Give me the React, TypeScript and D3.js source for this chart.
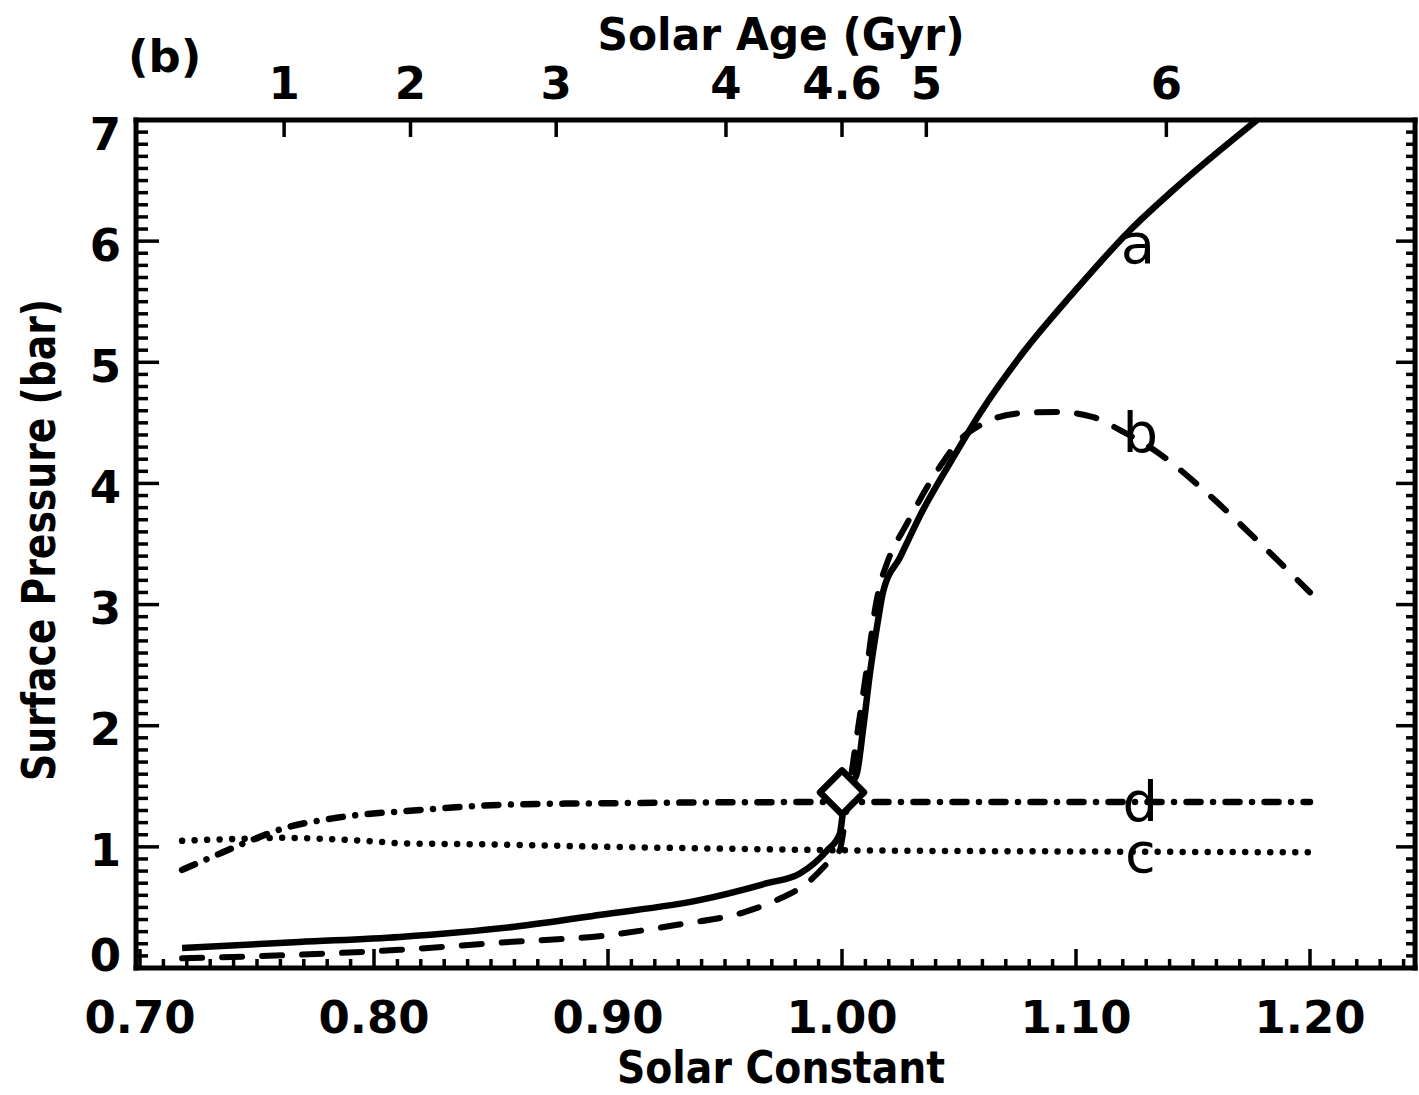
import React from "react";
import * as d3 from "d3";

const W = 1419;
const H = 1095;

// Model a (solid): solar constant (relative to today) vs surface pressure (bar)
const curveAS = [0.718, 0.768, 0.811, 0.86, 0.897, 0.939, 0.968, 0.982, 0.9936, 0.9991, 1.0004, 1.0026, 1.0064, 1.009, 1.012, 1.0154, 1.0175, 1.0248, 1.0346, 1.0462, 1.059, 1.0774, 1.0987, 1.1231, 1.1415, 1.1774];
const curveAP = [0.165, 0.215, 0.256, 0.34, 0.44, 0.56, 0.7, 0.78, 0.97, 1.11, 1.28, 1.47, 1.61, 1.97, 2.44, 2.87, 3.1, 3.39, 3.78, 4.17, 4.58, 5.08, 5.57, 6.09, 6.42, 7.0];

// Model b (dashed)
const curveBS = [0.718, 0.768, 0.811, 0.854, 0.8996, 0.929, 0.958, 0.972, 0.985, 0.995, 0.999, 1.0013, 1.0043, 1.0077, 1.0111, 1.0141, 1.0162, 1.0192, 1.0278, 1.0419, 1.0504, 1.059, 1.076, 1.0919, 1.107, 1.1188, 1.1346, 1.156, 1.1774, 1.2];
const curveBP = [0.08, 0.11, 0.15, 0.21, 0.27, 0.355, 0.46, 0.56, 0.7, 0.89, 0.97, 1.22, 1.64, 2.09, 2.54, 2.96, 3.16, 3.34, 3.67, 4.14, 4.36, 4.48, 4.58, 4.59, 4.55, 4.44, 4.26, 3.92, 3.53, 3.1];

// Model c (dotted)
const curveCS = [0.718, 0.74, 0.761, 0.78, 0.8, 0.811, 0.85, 0.9, 0.95, 1.0, 1.1, 1.2];
const curveCP = [1.05, 1.065, 1.075, 1.065, 1.045, 1.03, 1.02, 1.0, 0.985, 0.972, 0.962, 0.955];

// Model d (dash-dot)
const curveDS = [0.718, 0.73, 0.7457, 0.761, 0.784, 0.8167, 0.859, 0.9, 1.0, 1.1, 1.2];
const curveDP = [0.81, 0.91, 1.04, 1.15, 1.24, 1.3, 1.35, 1.36, 1.37, 1.37, 1.37];

// Present-day point
const presentS = 1.0;
const presentP = 1.45;

// Curve labels, anchored at (solar constant, pressure) of their baseline
const labelNames = ["a", "b", "d", "c"];
const labelS = [1.1265, 1.1275, 1.1275, 1.1275];
const labelP = [5.82, 4.26, 1.21, 0.79];

const constantTicks = [0.7, 0.8, 0.9, 1.0, 1.1, 1.2];
const pressureTicks = [0, 1, 2, 3, 4, 5, 6, 7];
const ageTicks = [1, 2, 3, 4, 4.6, 5, 6];

// Gough (1981) faint young Sun relation: luminosity relative to today at age t (Gyr)
const solarConstantAtAge = (t: number) => 1 / (1 + 0.4 * (1 - t / 4.6));

const zip = (a: number[], b: number[]): [number, number][] => a.map((v, i) => [v, b[i]]);

const FONT = "'DejaVu Sans', 'Open Sans', sans-serif";

export default function App() {
  const x = d3.scaleLinear().domain([0.7, 1.2]).range([140, 1310]);
  const y = d3.scaleLinear().domain([0, 7]).range([968, 120]);

  const sMin = 0.6983;
  const sMax = 1.2449;
  const left = x(sMin);
  const right = x(sMax);
  const top = y(7);
  const bottom = y(0);

  const line = d3
    .line<[number, number]>()
    .x((d) => x(d[0]))
    .y((d) => y(d[1]))
    .curve(d3.curveMonotoneX);

  const minorS = d3.range(70, 125).map((v) => v / 100);
  const minorP = d3.range(0, 71).map((v) => v / 10);
  const isMajorS = (v: number) => Math.abs(v * 10 - Math.round(v * 10)) < 1e-6;
  const isMajorP = (v: number) => Math.abs(v - Math.round(v)) < 1e-6;

  const dx = x(presentS);
  const dy = y(presentP);
  const r = 22;

  return (
    <svg
      width={W}
      height={H}
      viewBox={`0 0 ${W} ${H}`}
      style={{ position: "absolute", left: 0, top: 0, display: "block", background: "#fff" }}
    >
      <rect x={0} y={0} width={W} height={H} fill="#fff" />

      {/* curves */}
      <g fill="none" stroke="#000">
        <path d={line(zip(curveCS, curveCP)) || ""} strokeWidth={6.5} strokeDasharray="0.01 12.5" strokeLinecap="round" />
        <path d={line(zip(curveDS, curveDP)) || ""} strokeWidth={6.5} strokeDasharray="14 12.5 0.01 12.5" strokeLinecap="round" />
        <path d={line(zip(curveBS, curveBP)) || ""} strokeWidth={6} strokeDasharray="20 20" strokeLinecap="round" />
        <path d={line(zip(curveAS, curveAP)) || ""} strokeWidth={6.5} strokeLinejoin="round" />
      </g>

      {/* present-day diamond */}
      <path
        d={`M${dx - r},${dy} L${dx},${dy - r} L${dx + r},${dy} L${dx},${dy + r} Z`}
        fill="#fff"
        stroke="#000"
        strokeWidth={6.5}
        strokeLinejoin="round"
      />

      {/* curve labels */}
      <g fontFamily={FONT} fontSize={56} fill="#000" textAnchor="middle">
        {labelNames.map((n, i) => (
          <text key={n} x={x(labelS[i])} y={y(labelP[i])}>
            {n}
          </text>
        ))}
      </g>

      {/* frame */}
      <g stroke="#000" strokeWidth={5} strokeLinecap="square">
        <line x1={left} y1={top} x2={right} y2={top} />
        <line x1={left} y1={bottom} x2={right} y2={bottom} />
        <line x1={left} y1={top} x2={left} y2={bottom} />
        <line x1={right} y1={top} x2={right} y2={bottom} />
      </g>

      {/* bottom ticks */}
      <g stroke="#000" strokeWidth={3.5}>
        {minorS.map((v) => (
          <line key={`b${v}`} x1={x(v)} x2={x(v)} y1={bottom} y2={bottom - (isMajorS(v) ? 19 : 9)} />
        ))}
      </g>

      {/* left and right ticks */}
      <g stroke="#000" strokeWidth={3.5}>
        {minorP.map((v) => (
          <g key={`p${v}`}>
            <line x1={left} x2={left + (isMajorP(v) ? 23 : 12)} y1={y(v)} y2={y(v)} />
            <line x1={right} x2={right - (isMajorP(v) ? 19 : 9)} y1={y(v)} y2={y(v)} />
          </g>
        ))}
      </g>

      {/* top (age) ticks */}
      <g stroke="#000" strokeWidth={3.5}>
        {ageTicks.map((t) => (
          <line key={`t${t}`} x1={x(solarConstantAtAge(t))} x2={x(solarConstantAtAge(t))} y1={top} y2={top + 17} />
        ))}
      </g>

      {/* tick labels */}
      <g fontFamily={FONT} fontWeight="bold" fontSize={45} fill="#000">
        {constantTicks.map((v) => (
          <text key={`bl${v}`} x={x(v)} y={1033} textAnchor="middle">
            {v.toFixed(2)}
          </text>
        ))}
        {pressureTicks.map((v) => (
          <text
            key={`pl${v}`}
            x={121}
            y={Math.min(Math.max(y(v) + 4, 134), 955)}
            textAnchor="end"
            dominantBaseline="central"
          >
            {v}
          </text>
        ))}
        {ageTicks.map((t) => (
          <text key={`al${t}`} x={x(solarConstantAtAge(t))} y={99} textAnchor="middle">
            {t}
          </text>
        ))}
      </g>

      {/* titles */}
      <g fontFamily={FONT} fontWeight="bold" fill="#000">
        <text x={128} y={72} fontSize={45}>
          (b)
        </text>
        <text x={781} y={50} fontSize={45} textAnchor="middle" textLength={367} lengthAdjust="spacingAndGlyphs">
          Solar Age (Gyr)
        </text>
        <text x={781} y={1083} fontSize={44} textAnchor="middle" textLength={328} lengthAdjust="spacingAndGlyphs">
          Solar Constant
        </text>
        <text
          transform={`translate(55,540) rotate(-90)`}
          fontSize={46}
          textAnchor="middle"
          textLength={482}
          lengthAdjust="spacingAndGlyphs"
        >
          Surface Pressure (bar)
        </text>
      </g>
    </svg>
  );
}
